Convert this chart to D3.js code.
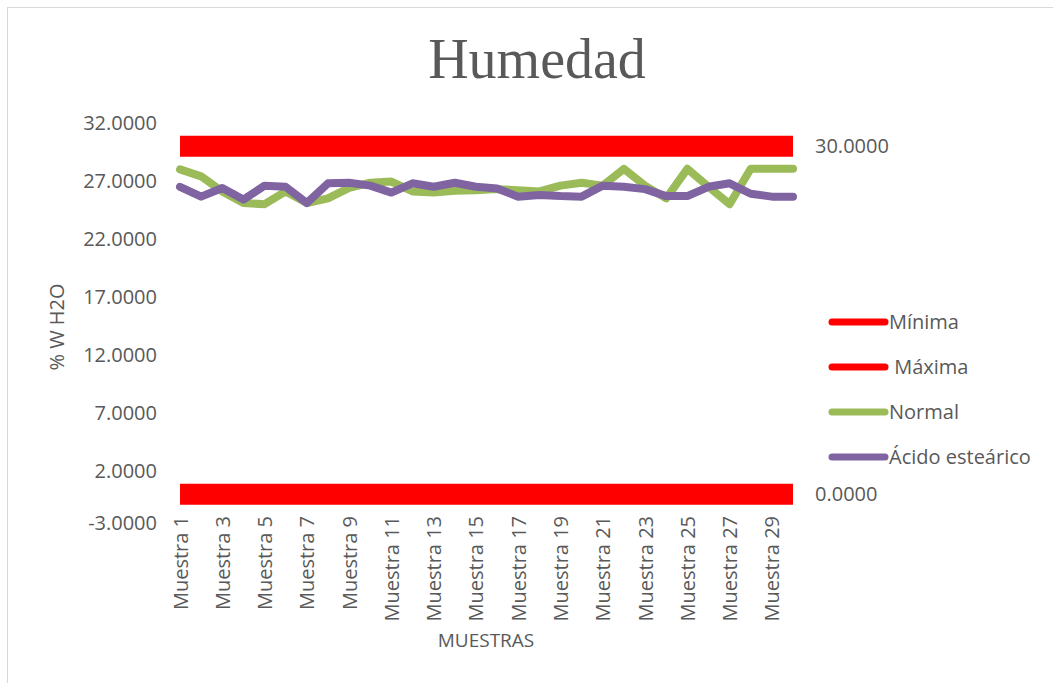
<!DOCTYPE html>
<html>
<head>
<meta charset="utf-8">
<script src="https://cdn.jsdelivr.net/npm/d3@7"></script>
<style>
  body { margin: 0; background: #fff; }
  text { font-family: "Open Sans", sans-serif; fill: #595959; }
</style>
</head>
<body>
<svg id="chart" width="1053" height="683"></svg>
<script>
var categories = ["Muestra 1", "Muestra 2", "Muestra 3", "Muestra 4", "Muestra 5", "Muestra 6",
  "Muestra 7", "Muestra 8", "Muestra 9", "Muestra 10", "Muestra 11", "Muestra 12",
  "Muestra 13", "Muestra 14", "Muestra 15", "Muestra 16", "Muestra 17", "Muestra 18",
  "Muestra 19", "Muestra 20", "Muestra 21", "Muestra 22", "Muestra 23", "Muestra 24",
  "Muestra 25", "Muestra 26", "Muestra 27", "Muestra 28", "Muestra 29", "Muestra 30"];

var minima = [0, 0, 0, 0, 0, 0, 0, 0, 0, 0, 0, 0, 0, 0, 0, 0, 0, 0, 0, 0, 0, 0, 0, 0, 0, 0, 0, 0, 0, 0];
var maxima = [30, 30, 30, 30, 30, 30, 30, 30, 30, 30, 30, 30, 30, 30, 30, 30, 30, 30, 30, 30, 30, 30, 30, 30, 30, 30, 30, 30, 30, 30];
var normal = [28.0, 27.4, 26.1, 25.1, 25.0, 26.1, 25.1, 25.5, 26.4, 26.85, 26.95, 26.1, 26.0, 26.15, 26.2,
  26.3, 26.2, 26.1, 26.6, 26.85, 26.6, 28.05, 26.6, 25.5, 28.05, 26.5, 25.0, 28.05, 28.05, 28.05];
var acido = [26.5, 25.65, 26.4, 25.4, 26.6, 26.5, 25.1, 26.8, 26.85, 26.6, 26.0, 26.8, 26.5, 26.85, 26.5,
  26.35, 25.65, 25.8, 25.7, 25.65, 26.6, 26.5, 26.3, 25.7, 25.7, 26.5, 26.8, 25.9, 25.65, 25.65];

var yTicks = [-3, 2, 7, 12, 17, 22, 27, 32];

var series = [
  {name: "Mínima", label: "Mínima", values: minima, color: "#FF0000", width: 21, cap: "butt"},
  {name: "Máxima", label: " Máxima", values: maxima, color: "#FF0000", width: 21, cap: "butt"},
  {name: "Normal", label: "Normal", values: normal, color: "#9BBB59", width: 8, cap: "round"},
  {name: "Ácido esteárico", label: "Ácido esteárico", values: acido, color: "#8064A2", width: 8, cap: "round"}
];

var svg = d3.select("#chart");

// chart border
svg.append("rect")
    .attr("x", 7.5).attr("y", 7.5)
    .attr("width", 1070).attr("height", 700)
    .attr("fill", "none")
    .attr("stroke", "#d9d9d9");

var x = d3.scalePoint().domain(categories).range([180, 793]),
    y = d3.scaleLinear().domain([-3, 32]).range([529, 123]);

var fmt = function(d) { return d3.format(".4f")(d).replace("\u2212", "-"); };

// title
svg.append("text")
    .attr("x", 537).attr("y", 78)
    .attr("text-anchor", "middle")
    .style("font-family", "'Liberation Serif', serif")
    .style("font-size", "56px")
    .text("Humedad");

// y axis
var yAxis = svg.append("g")
    .attr("transform", "translate(160,0)")
    .call(d3.axisLeft(y).tickValues(yTicks).tickFormat(fmt).tickSize(0).tickPadding(3));
yAxis.select(".domain").remove();
yAxis.selectAll("text")
    .style("font-size", "20px")
    .style("font-family", "'Open Sans', sans-serif")
    .attr("fill", "#595959");
// lowest label sits a bit higher in the original
yAxis.selectAll(".tick").filter(function(d) { return d === -3; })
    .select("text").attr("y", -6);

svg.append("text")
    .attr("transform", "translate(64,327) rotate(-90)")
    .attr("text-anchor", "middle")
    .style("font-size", "20px")
    .text("% W H2O");

// x axis labels, every other category
var xAxis = svg.append("g")
    .attr("transform", "translate(0,507)")
    .call(d3.axisBottom(x)
      .tickValues(categories.filter(function(d, i) { return i % 2 === 0; }))
      .tickSize(0));
xAxis.select(".domain").remove();
xAxis.selectAll("text")
    .style("font-size", "20px")
    .style("font-family", "'Open Sans', sans-serif")
    .attr("fill", "#595959")
    .attr("text-anchor", "end")
    .attr("transform", "rotate(-90)")
    .attr("x", -9)
    .attr("y", 0)
    .attr("dy", "0.35em");

svg.append("text")
    .attr("x", 486).attr("y", 647)
    .attr("text-anchor", "middle")
    .style("font-size", "19px")
    .text("MUESTRAS");

// lines
var line = d3.line()
    .x(function(d, i) { return x(categories[i]); })
    .y(function(d) { return y(d); });

svg.selectAll(".serie")
  .data(series)
  .enter().append("path")
    .attr("class", "serie")
    .attr("d", function(d) { return line(d.values); })
    .attr("fill", "none")
    .attr("stroke", function(d) { return d.color; })
    .attr("stroke-width", function(d) { return d.width; })
    .attr("stroke-linecap", function(d) { return d.cap; })
    .attr("stroke-linejoin", "round");

// data labels on the last point of the limit lines
[minima, maxima].forEach(function(vals) {
  var last = vals.length - 1;
  svg.append("text")
      .attr("x", x(categories[last]) + 22)
      .attr("y", y(vals[last]))
      .attr("dy", "0.35em")
      .style("font-size", "20px")
      .text(fmt(vals[last]));
});

// legend
var legend = svg.selectAll(".legend")
  .data(series)
  .enter().append("g")
    .attr("class", "legend")
    .attr("transform", function(d, i) { return "translate(832," + (322 + i * 45) + ")"; });

legend.append("line")
    .attr("x1", 0).attr("x2", 53)
    .attr("stroke", function(d) { return d.color; })
    .attr("stroke-width", 7)
    .attr("stroke-linecap", "round");

legend.append("text")
    .attr("x", 57)
    .attr("dy", "0.35em")
    .style("font-size", "20px")
    .style("white-space", "pre")
    .attr("xml:space", "preserve")
    .text(function(d) { return d.label; });
</script>
</body>
</html>
